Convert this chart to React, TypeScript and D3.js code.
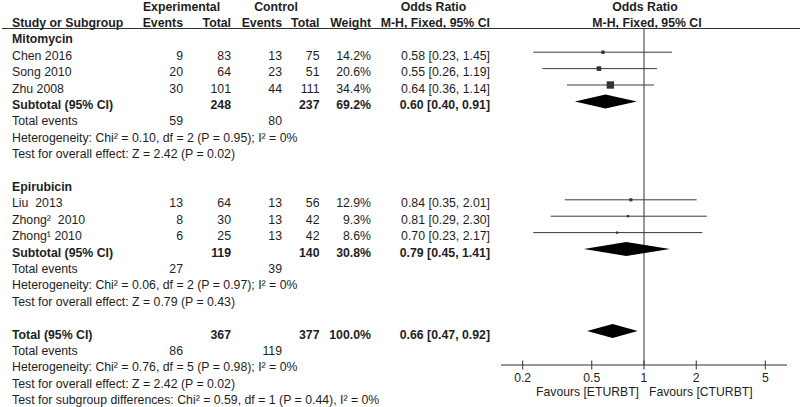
import React from "react";
import * as d3 from "d3";

const subgroupNames = ["Mitomycin", "Epirubicin"];
const studyNames = ["Chen 2016", "Song 2010", "Zhu 2008", "Liu  2013", "Zhong²  2010", "Zhong¹ 2010"];
const studyGroup = [0, 0, 0, 1, 1, 1];
const expEvents = [9, 20, 30, 13, 8, 6];
const expTotal = [83, 64, 101, 64, 30, 25];
const ctrlEvents = [13, 23, 44, 13, 13, 13];
const ctrlTotal = [75, 51, 111, 56, 42, 42];
const weights = [14.2, 20.6, 34.4, 12.9, 9.3, 8.6];
const orEst = [0.58, 0.55, 0.64, 0.84, 0.81, 0.7];
const orLow = [0.23, 0.26, 0.36, 0.35, 0.29, 0.23];
const orHigh = [1.45, 1.19, 1.14, 2.01, 2.3, 2.17];

const subExpTotal = [248, 119];
const subCtrlTotal = [237, 140];
const subWeight = [69.2, 30.8];
const subOR = [0.6, 0.79];
const subLow = [0.4, 0.45];
const subHigh = [0.91, 1.41];
const subExpEvents = [59, 27];
const subCtrlEvents = [80, 39];
const subHet = [
  "Heterogeneity: Chi² = 0.10, df = 2 (P = 0.95); I² = 0%",
  "Heterogeneity: Chi² = 0.06, df = 2 (P = 0.97); I² = 0%",
];
const subTest = [
  "Test for overall effect: Z = 2.42 (P = 0.02)",
  "Test for overall effect: Z = 0.79 (P = 0.43)",
];

const totExpTotal = 367;
const totCtrlTotal = 377;
const totWeight = 100.0;
const totOR = 0.66;
const totLow = 0.47;
const totHigh = 0.92;
const totExpEvents = 86;
const totCtrlEvents = 119;
const totHet = "Heterogeneity: Chi² = 0.76, df = 5 (P = 0.98); I² = 0%";
const totTest = "Test for overall effect: Z = 2.42 (P = 0.02)";
const subgroupDiff = "Test for subgroup differences: Chi² = 0.59, df = 1 (P = 0.44), I² = 0%";

const tickValues = [0.2, 0.5, 1, 2, 5];
const favoursLeft = "Favours [ETURBT]";
const favoursRight = "Favours [CTURBT]";

const FONT = "'Liberation Sans', Arial, sans-serif";
const FS = 12.3;
const TXT = "#1e1e1e";

const fmt2 = (v: number) => v.toFixed(2);
const orText = (e: number, l: number, h: number) => `${fmt2(e)} [${fmt2(l)}, ${fmt2(h)}]`;

type Row =
  | { kind: "group"; label: string }
  | { kind: "study"; i: number }
  | { kind: "subtotal"; label: string; et: number; ct: number; w: number; or: number; lo: number; hi: number }
  | { kind: "events"; ee: number; ce: number }
  | { kind: "note"; text: string }
  | { kind: "blank" };

export default function App() {
  const x = d3.scaleLog().domain([0.15, 1 / 0.15]).range([501, 787]);
  const rowY = (i: number) => 10.5 + 16.4 * i;

  const rows: Row[] = [];
  subgroupNames.forEach((g, gi) => {
    rows.push({ kind: "group", label: g });
    studyNames.forEach((_, i) => {
      if (studyGroup[i] === gi) rows.push({ kind: "study", i });
    });
    rows.push({
      kind: "subtotal",
      label: "Subtotal (95% CI)",
      et: subExpTotal[gi],
      ct: subCtrlTotal[gi],
      w: subWeight[gi],
      or: subOR[gi],
      lo: subLow[gi],
      hi: subHigh[gi],
    });
    rows.push({ kind: "events", ee: subExpEvents[gi], ce: subCtrlEvents[gi] });
    rows.push({ kind: "note", text: subHet[gi] });
    rows.push({ kind: "note", text: subTest[gi] });
    rows.push({ kind: "blank" });
  });
  rows.push({
    kind: "subtotal",
    label: "Total (95% CI)",
    et: totExpTotal,
    ct: totCtrlTotal,
    w: totWeight,
    or: totOR,
    lo: totLow,
    hi: totHigh,
  });
  rows.push({ kind: "events", ee: totExpEvents, ce: totCtrlEvents });
  rows.push({ kind: "note", text: totHet });
  rows.push({ kind: "note", text: totTest });
  rows.push({ kind: "note", text: subgroupDiff });

  const colX = { name: 12, ee: 183, et: 231, ce: 282, ct: 319.5, w: 371, or: 490 };
  const axisY = 365;
  const markOff = -7.5;

  const els: React.ReactNode[] = [];
  rows.forEach((r, k) => {
    const y = rowY(k + 2);
    const my = y + markOff;
    if (r.kind === "group") {
      els.push(
        <text key={`g${k}`} x={colX.name} y={y} fontWeight="bold">
          {r.label}
        </text>
      );
    } else if (r.kind === "study") {
      const i = r.i;
      const s = 0.2 * weights[i] + 0.5;
      els.push(
        <g key={`s${k}`}>
          <text x={colX.name} y={y} style={{ whiteSpace: "pre" }}>
            {studyNames[i]}
          </text>
          <text x={colX.ee} y={y} textAnchor="end">{expEvents[i]}</text>
          <text x={colX.et} y={y} textAnchor="end">{expTotal[i]}</text>
          <text x={colX.ce} y={y} textAnchor="end">{ctrlEvents[i]}</text>
          <text x={colX.ct} y={y} textAnchor="end">{ctrlTotal[i]}</text>
          <text x={colX.w} y={y} textAnchor="end">{weights[i].toFixed(1)}%</text>
          <text x={colX.or} y={y} textAnchor="end">{orText(orEst[i], orLow[i], orHigh[i])}</text>
          <line x1={x(orLow[i])} x2={x(orHigh[i])} y1={my} y2={my} stroke="#3a3a3a" strokeWidth={1} />
          <rect x={x(orEst[i]) - s / 2} y={my - s / 2} width={s} height={s} fill="#333" />
        </g>
      );
    } else if (r.kind === "subtotal") {
      const cx = x(r.or);
      const pts = `${x(r.lo)},${my} ${cx},${my - 7} ${x(r.hi)},${my} ${cx},${my + 7}`;
      els.push(
        <g key={`t${k}`} fontWeight="bold">
          <text x={colX.name} y={y}>{r.label}</text>
          <text x={colX.et} y={y} textAnchor="end">{r.et}</text>
          <text x={colX.ct} y={y} textAnchor="end">{r.ct}</text>
          <text x={colX.w} y={y} textAnchor="end">{r.w.toFixed(1)}%</text>
          <text x={colX.or} y={y} textAnchor="end">{orText(r.or, r.lo, r.hi)}</text>
          <polygon points={pts} fill="#000" />
        </g>
      );
    } else if (r.kind === "events") {
      els.push(
        <g key={`e${k}`}>
          <text x={colX.name} y={y}>Total events</text>
          <text x={colX.ee} y={y} textAnchor="end">{r.ee}</text>
          <text x={colX.ce} y={y} textAnchor="end">{r.ce}</text>
        </g>
      );
    } else if (r.kind === "note") {
      els.push(
        <text key={`n${k}`} x={colX.name} y={y}>
          {r.text}
        </text>
      );
    }
  });

  return (
    <svg
      width={800}
      height={407}
      style={{ position: "absolute", left: 0, top: 0, background: "#fff" }}
      fontFamily={FONT}
      fontSize={FS}
      fill={TXT}
    >
      <rect x={0} y={0} width={800} height={407} fill="#fff" />
      {/* header */}
      <g fontWeight="bold">
        <text x={181.5} y={rowY(0)} textAnchor="middle">Experimental</text>
        <text x={276} y={rowY(0)} textAnchor="middle">Control</text>
        <text x={433.5} y={rowY(0)} textAnchor="middle">Odds Ratio</text>
        <text x={645} y={rowY(0)} textAnchor="middle">Odds Ratio</text>
        <text x={colX.name} y={rowY(1)}>Study or Subgroup</text>
        <text x={colX.ee} y={rowY(1)} textAnchor="end">Events</text>
        <text x={colX.et} y={rowY(1)} textAnchor="end">Total</text>
        <text x={colX.ce} y={rowY(1)} textAnchor="end">Events</text>
        <text x={colX.ct} y={rowY(1)} textAnchor="end">Total</text>
        <text x={colX.w} y={rowY(1)} textAnchor="end">Weight</text>
        <text x={colX.or} y={rowY(1)} textAnchor="end">M-H, Fixed, 95% CI</text>
        <text x={647} y={rowY(1)} textAnchor="middle">M-H, Fixed, 95% CI</text>
      </g>
      <line x1={2} x2={800} y1={28.5} y2={28.5} stroke="#333" strokeWidth={1} />
      {/* null line */}
      <line x1={x(1)} x2={x(1)} y1={28.5} y2={axisY} stroke="#333" strokeWidth={1} />
      {els}
      {/* axis */}
      <line x1={x.range()[0]} x2={x.range()[1]} y1={axisY} y2={axisY} stroke="#333" strokeWidth={1} />
      {tickValues.map((t) => (
        <g key={`tk${t}`}>
          <line x1={x(t)} x2={x(t)} y1={axisY - 4.5} y2={axisY + 4.5} stroke="#333" strokeWidth={1} />
          <text x={x(t)} y={381.5} textAnchor="middle" fontSize={12.2}>
            {t}
          </text>
        </g>
      ))}
      <text x={x(1) - 5} y={396} textAnchor="end" fontSize={12.2}>{favoursLeft}</text>
      <text x={x(1) + 5} y={396} textAnchor="start" fontSize={12.2}>{favoursRight}</text>
    </svg>
  );
}
